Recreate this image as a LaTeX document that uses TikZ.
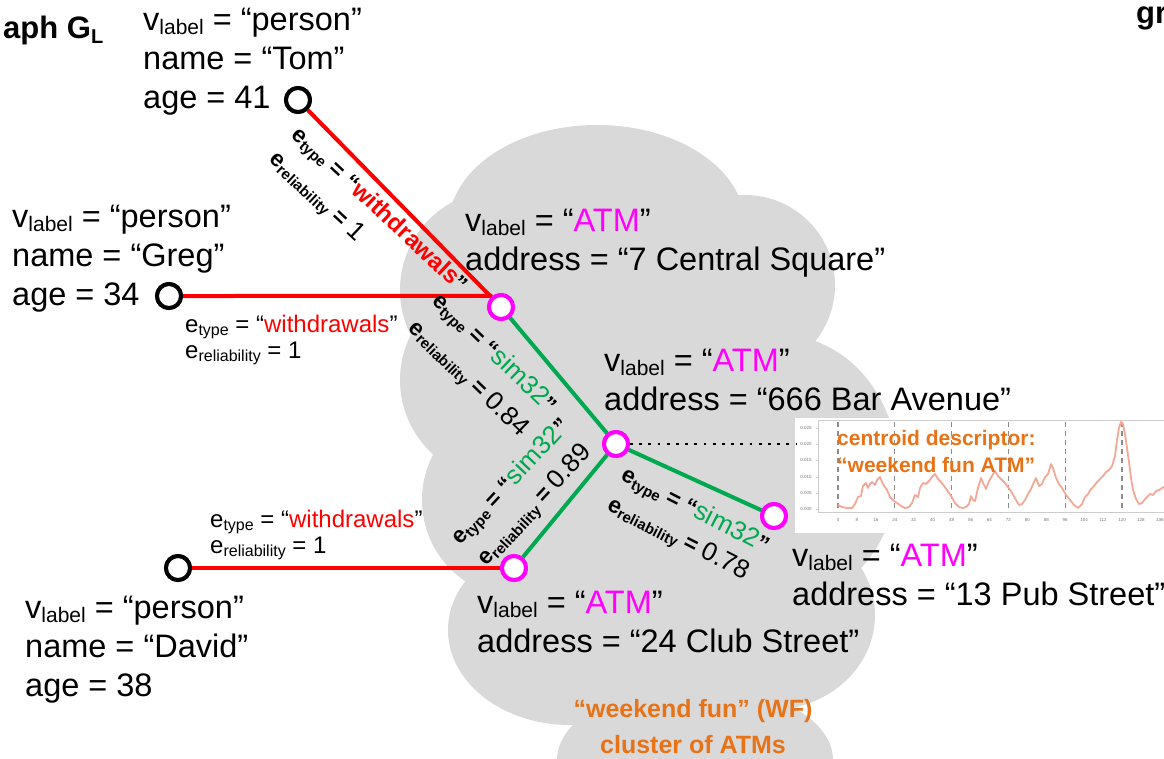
\documentclass[tikz,border=0pt]{standalone}
\usepackage{fontspec}
\setmainfont{Liberation Sans}
\definecolor{cloudgray}{RGB}{217,217,217}
\definecolor{edgered}{RGB}{255,0,0}
\definecolor{simgreen}{RGB}{0,168,80}
\definecolor{atmpink}{RGB}{255,0,255}
\definecolor{wforange}{RGB}{232,114,22}
\definecolor{seriespink}{RGB}{244,168,152}
\definecolor{axisgray}{RGB}{205,205,205}
\definecolor{tickgray}{RGB}{120,120,120}
\definecolor{gridgray}{RGB}{140,140,140}
\newcommand\fsz[1]{\fontsize{#1}{#1}\selectfont}
\newcommand\sbs[3]{\raisebox{-#1pt}{\fsz{#2}#3}}
\newcommand\vlab{v\sbs{4}{21}{label}}
\newcommand\etype{e\sbs{3}{15}{type}}
\newcommand\erel{e\sbs{3}{15}{reliability}}
\newcommand\hetype{e\sbs{3}{16}{type}}
\newcommand\herel{e\sbs{3}{16}{reliability}}
\begin{document}
\begin{tikzpicture}[x=1pt,y=-1pt,
  % multi-line nodes are anchored at the baseline of their last line
  attr/.style={anchor=base west, inner sep=0pt, align=left, font=\fontsize{32.5}{39}\selectfont},
  atmattr/.style={anchor=base west, inner sep=0pt, align=left, font=\fontsize{32.5}{38.5}\selectfont},
  elabel/.style={anchor=base west, inner sep=0pt, align=left, font=\fontsize{24}{26}\selectfont},
  rotlabel/.style={anchor=center, inner sep=0pt, font=\bfseries\fsz{23}},
  person/.style={circle, draw=black, fill=white, line width=4pt, minimum size=24pt, inner sep=0pt},
  atm/.style={circle, draw=atmpink, fill=white, line width=4pt, minimum size=24pt, inner sep=0pt},
  redge/.style={draw=edgered, line width=4pt},
  gedge/.style={draw=simgreen, line width=4pt},
  dotline/.style={draw=black, line width=2.8pt, dash pattern=on 2.8pt off 6.4pt},
  ticklbl/.style={inner sep=0pt, font=\fsz{4.5}, text=tickgray},
  gridline/.style={draw=gridgray, line width=1.1pt, dash pattern=on 5pt off 4pt},
  orangetxt/.style={inner sep=0pt, text=wforange, font=\bfseries\fontsize{21}{27}\selectfont, align=left}
]
\useasboundingbox (0,0) rectangle (1164,758);
\fill[white] (0,0) rectangle (1164,758);

% cluster cloud built from overlapping lobes
\fill[cloudgray]
  (597,225) ellipse [x radius=148pt, y radius=100pt]
  (500,290) circle [radius=100pt]
  (500,380) circle [radius=100pt]
  (520,500) circle [radius=98pt]
  (570,630) ellipse [x radius=122pt, y radius=95pt]
  (695,760) ellipse [x radius=138pt, y radius=75pt]
  (690,655) ellipse [x radius=90pt, y radius=60pt]
  (650,450) ellipse [x radius=190pt, y radius=150pt]
  (745,285) circle [radius=90pt]
  (780,470) ellipse [x radius=118pt, y radius=135pt]
  (770,615) ellipse [x radius=105pt, y radius=95pt];

% centroid descriptor chart
\fill[white] (795,418) rectangle (1170,533);
\draw[axisgray, line width=0.8pt] (818,420) rectangle (1170,512);
\foreach \yv/\lab [count=\i] in {509/0.000,493/0.005,477/0.010,460/0.015,444/0.020,428/0.025}{
  \node[ticklbl] (yt\i) at (806,\yv) {\lab};
  \draw[axisgray, line width=0.6pt] (815.5,\yv) -- (818,\yv);
}
\foreach \t in {0,8,...,136}{
  \node[ticklbl] (xt\t) at ({838+2.3667*\t},520) {\t};
}
\foreach \t in {0,24,...,120}{
  \draw[gridline] ({838+2.3667*\t},422) -- ({838+2.3667*\t},511);
}
\draw[seriespink, line width=1.8pt, line join=round] plot coordinates {
 (838,505) (842,507) (847,508) (852,508) (855,504) (858,497) (861,496) (863,486)
 (866,483) (868,488) (870,484) (872,482) (875,485) (877,480) (880,477) (882,482)
 (884,486) (887,490) (890,497) (894,501) (897,503) (901,506) (905,508) (909,507)
 (912,503) (915,495) (918,497) (920,488) (923,483) (926,484) (929,481) (932,477)
 (935,474) (938,479) (941,482) (944,486) (947,490) (951,496) (955,503) (959,507)
 (963,508) (966,507) (969,504) (971,496) (973,500) (975,501) (978,488) (981,478)
 (984,485) (986,489) (989,481) (992,476) (995,471) (998,476) (1001,479) (1004,482)
 (1008,487) (1012,493) (1016,500) (1019,505) (1022,504) (1025,500) (1028,494)
 (1031,489) (1034,482) (1036,478) (1039,486) (1042,484) (1045,477) (1048,474)
 (1051,464) (1053,468) (1056,478) (1059,484) (1062,488) (1066,495) (1070,500)
 (1074,505) (1078,508) (1082,504) (1085,497) (1088,494) (1091,489) (1094,486)
 (1097,482) (1100,479) (1103,476) (1106,472) (1109,470) (1112,466) (1115,456)
 (1117,440) (1119,428) (1121,422) (1123,424) (1125,434) (1127,448) (1129,462)
 (1131,478) (1133,490) (1136,499) (1139,504) (1142,503) (1145,499) (1147,497)
 (1150,494) (1153,495) (1156,491) (1159,490) (1162,488) (1166,486)};
\node[orangetxt, anchor=base west] (centroid) at (837,472) {centroid descriptor:\\“weekend fun ATM”};
\coordinate (chartL) at (796,444);

% vertices
\node[person] (tom) at (298,100) {};
\node[person] (greg) at (169,296) {};
\node[person] (david) at (178,568) {};
\node[atm] (a1) at (501,307) {};
\node[atm] (a2) at (616,444) {};
\node[atm] (a3) at (774,516) {};
\node[atm] (a4) at (514,568) {};

% edges
\draw[redge] (tom) -- (a1);
\draw[redge] (greg) -- (a1.128);
\draw[redge] (david) -- (a4);
\draw[gedge] (a1) -- (a2);
\draw[gedge] (a2) -- (a4);
\draw[gedge] (a2) -- (a3);
\draw[dotline] (a2) -- (chartL);
\node[atm] at (a1) {};
\node[atm] at (a2) {};
\node[atm] at (a3) {};
\node[atm] at (a4) {};
\node[person] at (tom) {};
\node[person] at (greg) {};
\node[person] at (david) {};

% vertex attributes
\node[attr] (tomtxt) at (143,108) {\vlab{} = “person”\\name = “Tom”\\age = 41};
\node[attr] (gregtxt) at (12,305) {\vlab{} = “person”\\name = “Greg”\\age = 34};
\node[attr] (davidtxt) at (25,696) {\vlab{} = “person”\\name = “David”\\age = 38};
\node[atmattr] (a1txt) at (465,270) {\vlab{} = “\textcolor{atmpink}{ATM}”\\address = “7 Central Square”};
\node[atmattr] (a2txt) at (604,410) {\vlab{} = “\textcolor{atmpink}{ATM}”\\address = “666 Bar Avenue”};
\node[atmattr] (a3txt) at (792,605) {\vlab{} = “\textcolor{atmpink}{ATM}”\\address = “13 Pub Street”};
\node[atmattr] (a4txt) at (477,652) {\vlab{} = “\textcolor{atmpink}{ATM}”\\address = “24 Club Street”};

% edge attributes
\node[elabel] (greglbl) at (185,358) {\hetype{} = “\textcolor{edgered}{withdrawals}”\\\herel{} = 1};
\node[elabel] (davidlbl) at (210,553) {\hetype{} = “\textcolor{edgered}{withdrawals}”\\\herel{} = 1};

\node[rotlabel, rotate=-43] (tomlblA) at (379,211) {\etype{} = “\textcolor{edgered}{\fsz{24}withdrawals}”};
\node[rotlabel, rotate=-43] (tomlblB) at (316,197) {\erel{} = {\mdseries\fsz{26}1}};

\node[rotlabel, rotate=-44] (s12A) at (494,354) {\etype{} = “\textcolor{simgreen}{\mdseries\fsz{26}sim32}”};
\node[rotlabel, rotate=-44] (s12B) at (468,379) {\erel{} = {\mdseries\fsz{26}0.84}};

\node[rotlabel, rotate=47] (s24A) at (511,482) {\etype{} = “\textcolor{simgreen}{\mdseries\fsz{26}sim32}”};
\node[rotlabel, rotate=47] (s24B) at (535,506) {\erel{} = {\mdseries\fsz{26}0.89}};

\node[rotlabel, rotate=-27] (s23A) at (695,511) {\etype{} = “\textcolor{simgreen}{\mdseries\fsz{26}sim32}”};
\node[rotlabel, rotate=-27] (s23B) at (678,539) {\erel{} = {\mdseries\fsz{26}0.78}};

% cluster caption and graph titles
\node[anchor=base, inner sep=0pt, align=center, text=wforange, font=\bfseries\fontsize{25}{36}\selectfont] (wf) at (693,753) {“weekend fun” (WF)\\cluster of ATMs};
\node[anchor=base west, inner sep=0pt, font=\bfseries\fsz{31}] (title) at (3,38) {aph G\sbs{5}{20}{L}};
\node[anchor=base west, inner sep=0pt, font=\bfseries\fsz{31}] (gr) at (1136,23) {gr};
\end{tikzpicture}
\end{document}
